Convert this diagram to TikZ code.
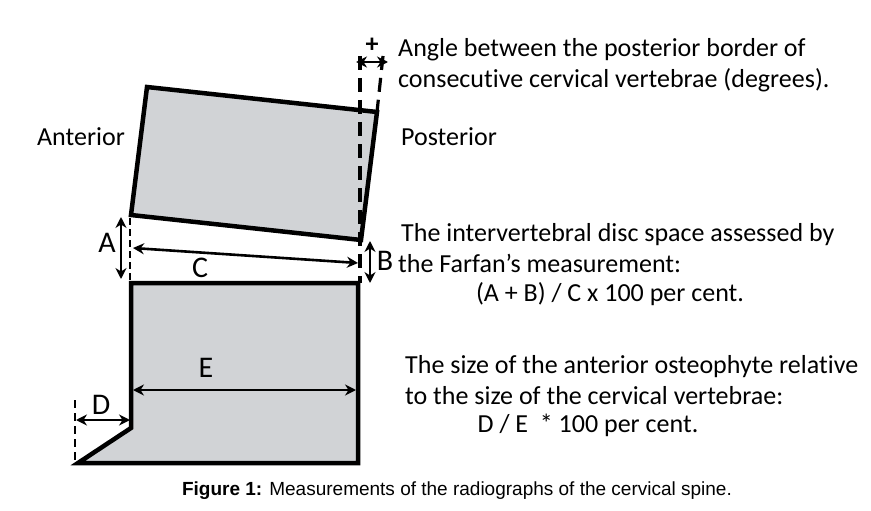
\documentclass[tikz,border=0pt]{standalone}
\usepackage{fontspec}
\setmainfont[Ligatures=NoCommon]{Carlito}
\newfontfamily\capfont{Liberation Sans}
\usetikzlibrary{arrows.meta}
\definecolor{vgray}{HTML}{D1D3D6}
\begin{document}
\begin{tikzpicture}[x=1pt,y=-1pt,
  vert/.style={draw=black,fill=vgray,line width=4.5pt,line join=miter},
  dsh/.style={draw=black,line width=3.2pt,dash pattern=on 14pt off 8pt},
  meas/.style={draw=black,line width=2.6pt,{Stealth[length=11pt,width=11pt]}-{Stealth[length=11pt,width=11pt]}},
  lbl/.style={font=\fontsize{26}{28}\selectfont,inner sep=0pt},
  big/.style={font=\fontsize{30}{30}\selectfont,inner sep=0pt},
  txt/.style={font=\fontsize{26}{28}\selectfont,inner sep=0pt,anchor=west}]
\useasboundingbox (0,0) rectangle (871,511);
% vertebrae
\draw[vert] (147,87) -- (377,112) -- (361,240) -- (131,215) -- cycle;
\draw[vert] (131,283) -- (358,283) -- (358,463) -- (78,463) -- (131,428) -- cycle;
% dashed lines
\coordinate (v1) at (360,56); \coordinate (v2) at (360,283);
\draw[dsh] (v1) -- (v2);
\coordinate (s1) at (383,56); \coordinate (s2) at (377,112);
\draw[dsh] (s1) -- (s2);
\coordinate (a1) at (130,218); \coordinate (a2) at (130,280);
\draw[dsh,line width=2.8pt,dash pattern=on 7pt off 4pt] (a1) -- (a2);
\coordinate (d1) at (75,400); \coordinate (d2) at (75,463);
\draw[dsh,line width=2.8pt,dash pattern=on 8pt off 5pt] (d1) -- (d2);
% arrows
\coordinate (p1) at (356,62); \coordinate (p2) at (388,62);
\draw[meas] (p1) -- (p2);
\coordinate (ar1) at (121,217); \coordinate (ar2) at (121,279);
\draw[meas] (ar1) -- (ar2);
\coordinate (c1) at (133,248); \coordinate (c2) at (358,263);
\draw[meas] (c1) -- (c2);
\coordinate (b1) at (370,241); \coordinate (b2) at (370,283);
\draw[meas] (b1) -- (b2);
\coordinate (dd1) at (76,420); \coordinate (dd2) at (130,420);
\draw[meas] (dd1) -- (dd2);
\coordinate (e1) at (133,390); \coordinate (e2) at (356,390);
\draw[meas] (e1) -- (e2);
% labels
\node[lbl,font=\fontsize{26}{26}\selectfont\bfseries] (plus) at (372,45) {+};
\node[big] (A) at (107,243) {A};
\node[big] (C) at (200,268) {C};
\node[big] (B) at (385,261) {B};
\node[big] (D) at (101,405) {D};
\node[big] (E) at (206,368) {E};
\node[lbl] (ant) at (81,137) {Anterior};
\node[txt] (post) at (401,137) {Posterior};
\node[txt] (t1) at (398,50) {Angle between the posterior border of};
\node[txt] (t2) at (398,80) {consecutive cervical vertebrae (degrees).};
\node[txt] (t3) at (401,235) {The intervertebral disc space assessed by};
\node[txt] (t4) at (398,263) {the Farfan’s measurement:};
\node[lbl] (t5) at (610,294) {(A + B) / C x 100 per cent.};
\node[txt] (t6) at (405,367) {The size of the anterior osteophyte relative};
\node[txt] (t7) at (405,396) {to the size of the cervical vertebrae:};
\node[lbl] (t8) at (588,425) {D / E~~* 100 per cent.};
\node[inner sep=0pt,font=\capfont\fontsize{19}{21}\selectfont] (cap) at (457,491) {\textbf{Figure 1:} Measurements of the radiographs of the cervical spine.};
\end{tikzpicture}
\end{document}
